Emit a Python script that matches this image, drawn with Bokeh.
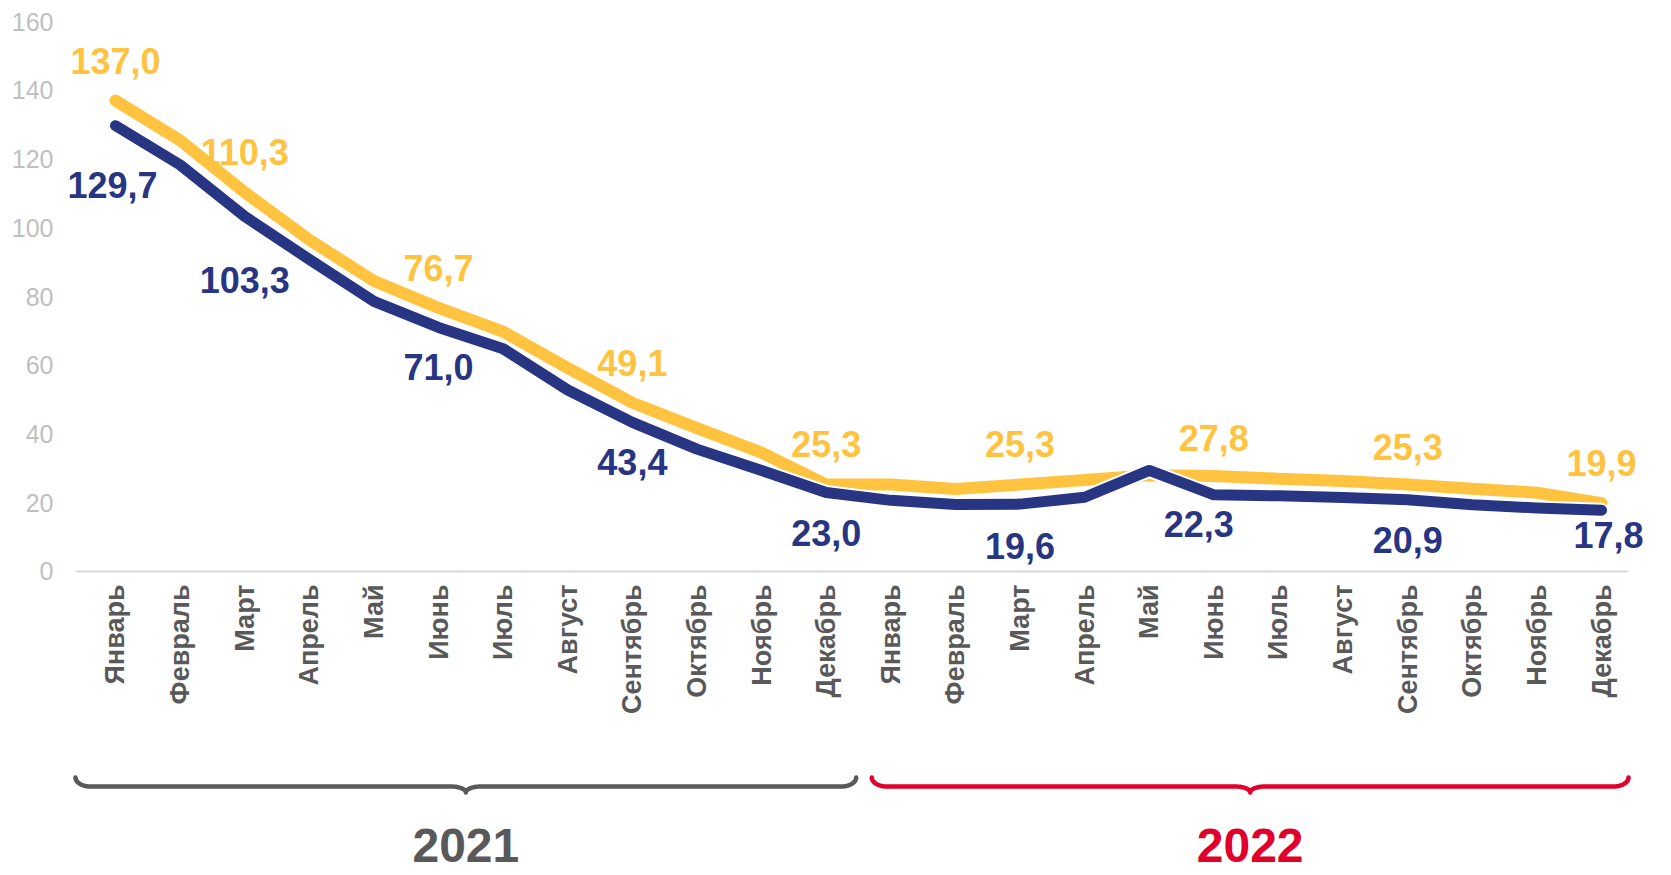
import numpy as np
from bokeh.plotting import figure
from bokeh.models import ColumnDataSource, FixedTicker, Range1d
from bokeh.core.properties import value
from bokeh.embed import file_html
from bokeh.resources import INLINE

# ---------------- data ----------------
months = ["Январь", "Февраль", "Март", "Апрель", "Май", "Июнь", "Июль",
          "Август", "Сентябрь", "Октябрь", "Ноябрь", "Декабрь"]
years = ["2021", "2022"]
categories = months + months
series_yellow = [137.0, 125.4, 110.3, 96.5, 84.5, 76.7, 69.8, 59.2, 49.1, 41.7, 34.6, 25.3,
                 25.3, 24.0, 25.3, 26.6, 28.0, 27.8, 27.0, 26.3, 25.3, 24.1, 22.9, 19.9]
series_blue = [129.7, 118.3, 103.3, 90.8, 78.6, 71.0, 64.8, 52.8, 43.4, 35.6, 29.4, 23.0,
               20.7, 19.5, 19.6, 21.6, 29.4, 22.3, 22.0, 21.5, 20.9, 19.4, 18.5, 17.8]
labelled_idx = [0, 2, 5, 8, 11, 14, 17, 20, 23]
y_ticks = [0, 20, 40, 60, 80, 100, 120, 140, 160]

# ---------------- label placement (screen px) ----------------
yellow_dy = [40, 40, 40, 40, 41, 41, 38, 38, 40]
blue_dy = [59, 64, 40, 40, 41, 42, 29, 40, 25]
blue_dx = [-3, 0, 0, 0, 0, 0, -15, 0, 7]
brace_pad_left = [40, 19]
brace_pad_right = [30, 27]

# ---------------- styles ----------------
YELLOW = "#FFC33F"
BLUE = "#283583"
GRAY = "#595959"
RED = "#E1002B"
year_colors = [GRAY, RED]
FONT = "Liberation Sans"

W, H = 1671, 875
L, T = 62, 14
x0r, x1r = -0.820, 24.083
y0r, y1r = -88.44, 162.04
px_x = (W - L) / (x1r - x0r)
px_y = (H - T) / (y1r - y0r)


def ydata(py):
    return y1r - (py - T) / px_y


p = figure(width=W, height=H, x_range=Range1d(x0r, x1r), y_range=Range1d(y0r, y1r),
           output_backend="svg", toolbar_location=None, x_axis_location=None,
           min_border_left=L, min_border_right=0, min_border_top=T, min_border_bottom=0,
           title=None)
p.outline_line_color = None
p.grid.visible = False
p.background_fill_color = "white"
p.border_fill_color = "white"

ax = p.yaxis[0]
ax.ticker = FixedTicker(ticks=y_ticks)
ax.axis_line_color = None
ax.major_tick_line_color = None
ax.minor_tick_line_color = None
ax.major_label_standoff = 3
ax.major_label_text_font = FONT
ax.major_label_text_font_size = "25px"
ax.major_label_text_color = "#BFBFBF"

xs = list(range(len(categories)))

# baseline
first_x = 0 - brace_pad_left[0] / px_x
last_x = xs[-1] + brace_pad_right[1] / px_x
p.line([first_x, last_x], [0, 0], line_color="#D9D9D9", line_width=2)

# series lines
p.line(xs, series_yellow, line_color=YELLOW, line_width=12, line_cap="round", line_join="round")
p.line(xs, series_blue, line_color="white", line_width=15, line_cap="round", line_join="round")
p.line(xs, series_blue, line_color=BLUE, line_width=11, line_cap="round", line_join="round")


def fmt(v):
    return f"{v:.1f}".replace(".", ",")


ysrc = ColumnDataSource(dict(
    x=[i for i in labelled_idx],
    y=[series_yellow[i] + d / px_y for i, d in zip(labelled_idx, yellow_dy)],
    t=[fmt(series_yellow[i]) for i in labelled_idx]))
p.text("x", "y", text="t", source=ysrc, text_color=YELLOW, text_font=value(FONT),
       text_font_style="bold", text_font_size="36px", text_align="center", text_baseline="middle")

bsrc = ColumnDataSource(dict(
    x=[i + dx / px_x for i, dx in zip(labelled_idx, blue_dx)],
    y=[series_blue[i] - d / px_y for i, d in zip(labelled_idx, blue_dy)],
    t=[fmt(series_blue[i]) for i in labelled_idx]))
p.text("x", "y", text="t", source=bsrc, text_color=BLUE, text_font=value(FONT),
       text_font_style="bold", text_font_size="36px", text_align="center", text_baseline="middle")

# month labels
msrc = ColumnDataSource(dict(x=xs, y=[ydata(584)] * len(xs), t=categories))
p.text("x", "y", text="t", source=msrc, angle=np.pi / 2, text_color=GRAY, text_font=value(FONT),
       text_font_style="bold", text_font_size="27px", text_align="right", text_baseline="middle")

# braces + year labels
ytop, ymid, ytip = ydata(777), ydata(786), ydata(792)
rx = 15 / px_x
t = np.linspace(0, np.pi / 2, 24)
yr_x, yr_y = [], []
for k, yr in enumerate(years):
    idx = [i for i in xs if i // 12 == k]
    bx0 = idx[0] - brace_pad_left[k] / px_x
    bx1 = idx[-1] + brace_pad_right[k] / px_x
    xc = (bx0 + bx1) / 2
    seg1x = bx0 + rx * (1 - np.cos(t)); seg1y = ytop - (ytop - ymid) * np.sin(t)
    seg2x = xc - rx + rx * np.sin(t); seg2y = ymid - (ymid - ytip) * (1 - np.cos(t))
    tr = t[::-1]
    seg3x = xc + rx - rx * np.sin(tr); seg3y = ymid - (ymid - ytip) * (1 - np.cos(tr))
    seg4x = bx1 - rx * (1 - np.cos(tr)); seg4y = ytop - (ytop - ymid) * np.sin(tr)
    bx = np.concatenate([seg1x, seg2x, seg3x, seg4x])
    by = np.concatenate([seg1y, seg2y, seg3y, seg4y])
    p.line(bx, by, line_color=year_colors[k], line_width=4.5, line_cap="round", line_join="round")
    yr_x.append(xc)
    yr_y.append(ydata(845))

ylsrc = ColumnDataSource(dict(x=yr_x, y=yr_y, t=years, c=year_colors))
p.text("x", "y", text="t", source=ylsrc, text_color="c", text_font=value(FONT),
       text_font_style="bold", text_font_size="48px", text_align="center", text_baseline="middle")

open("out.html", "w").write(file_html(p, INLINE))
